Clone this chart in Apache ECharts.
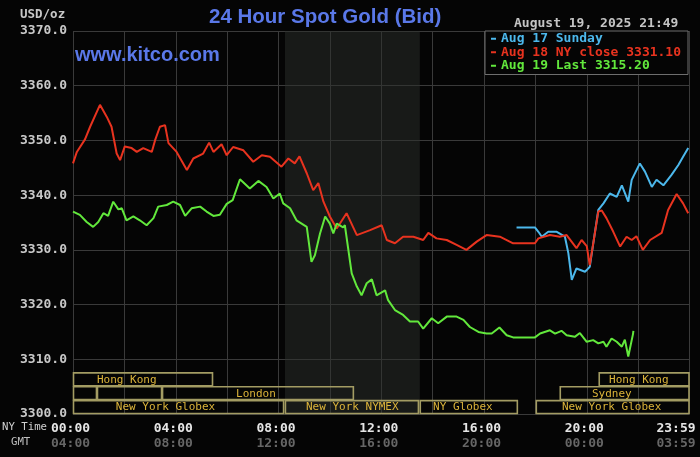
<!DOCTYPE html>
<html>
<head>
<meta charset="utf-8">
<script src="https://cdn.jsdelivr.net/npm/echarts@6/dist/echarts.min.js"></script>
<style>
html, body { margin: 0; padding: 0; background: #050505; }
#chart { width: 700px; height: 457px; }
</style>
</head>
<body>
<div id="chart"></div>
<script>
// minutes after midnight (NY time) and bid prices
var sundayTime = [1036, 1079, 1087, 1095, 1110, 1130, 1149, 1157, 1165, 1176, 1196, 1207, 1227, 1239, 1254, 1270, 1282, 1297, 1305, 1324, 1336, 1352, 1363, 1379, 1398, 1414, 1425, 1437];
var sundayVal = [3334.1, 3334.1, 3333.3, 3332.4, 3333.3, 3333.3, 3332.4, 3329.4, 3324.5, 3326.6, 3326.0, 3326.9, 3337.3, 3338.5, 3340.3, 3339.7, 3341.8, 3338.8, 3342.8, 3345.8, 3344.3, 3341.5, 3342.8, 3341.8, 3343.7, 3345.5, 3347.0, 3348.6];

var closeTime = [0, 9, 28, 40, 63, 79, 90, 102, 110, 121, 137, 149, 164, 184, 192, 203, 215, 223, 242, 266, 281, 304, 318, 328, 347, 359, 374, 398, 421, 441, 460, 487, 503, 518, 529, 546, 561, 573, 585, 600, 616, 639, 663, 694, 721, 733, 752, 771, 795, 818, 830, 849, 873, 896, 919, 943, 966, 997, 1028, 1079, 1087, 1114, 1137, 1153, 1176, 1188, 1200, 1207, 1227, 1235, 1246, 1262, 1278, 1293, 1305, 1316, 1331, 1348, 1375, 1390, 1410, 1425, 1437];
var closeVal = [3345.8, 3347.9, 3350.2, 3352.5, 3356.5, 3354.3, 3352.5, 3347.6, 3346.4, 3348.9, 3348.6, 3347.9, 3348.6, 3347.9, 3350.1, 3352.5, 3352.8, 3349.5, 3347.9, 3344.6, 3346.7, 3347.6, 3349.6, 3347.9, 3349.3, 3347.3, 3348.8, 3348.2, 3346.1, 3347.3, 3347.0, 3345.2, 3346.7, 3345.8, 3347.1, 3344.0, 3340.9, 3342.2, 3338.8, 3336.1, 3333.9, 3336.7, 3332.7, 3333.6, 3334.5, 3331.8, 3331.2, 3332.4, 3332.4, 3331.8, 3333.1, 3332.1, 3331.8, 3330.9, 3330.0, 3331.5, 3332.7, 3332.4, 3331.2, 3331.2, 3332.1, 3332.7, 3332.4, 3332.7, 3330.3, 3331.8, 3330.7, 3327.2, 3337.0, 3337.2, 3335.8, 3333.3, 3330.6, 3332.4, 3331.8, 3332.5, 3330.0, 3331.8, 3333.1, 3337.3, 3340.2, 3338.5, 3336.7];

var lastTime = [0, 16, 32, 47, 59, 71, 82, 94, 106, 114, 125, 141, 156, 172, 188, 199, 219, 234, 250, 262, 277, 297, 312, 328, 343, 359, 373, 390, 413, 433, 452, 468, 483, 491, 507, 522, 546, 557, 565, 577, 589, 600, 608, 616, 631, 635, 651, 663, 674, 686, 698, 709, 729, 736, 752, 771, 787, 806, 818, 838, 853, 873, 896, 912, 927, 947, 966, 978, 996, 1013, 1028, 1079, 1091, 1114, 1126, 1141, 1153, 1172, 1184, 1200, 1215, 1227, 1239, 1246, 1258, 1270, 1282, 1289, 1297, 1308, 1309];
var lastVal = [3337.0, 3336.4, 3335.1, 3334.2, 3335.1, 3336.7, 3336.2, 3338.8, 3337.4, 3337.6, 3335.4, 3336.1, 3335.4, 3334.5, 3335.8, 3337.9, 3338.2, 3338.8, 3338.2, 3336.2, 3337.6, 3337.9, 3337.0, 3336.2, 3336.4, 3338.4, 3339.1, 3342.9, 3341.2, 3342.6, 3341.5, 3339.4, 3340.3, 3338.5, 3337.6, 3335.4, 3334.2, 3327.8, 3329.0, 3333.0, 3336.1, 3334.8, 3333.0, 3334.8, 3334.1, 3334.5, 3325.7, 3323.3, 3321.7, 3323.9, 3324.6, 3321.7, 3322.6, 3320.8, 3319.0, 3318.1, 3316.9, 3316.9, 3315.6, 3317.5, 3316.6, 3317.8, 3317.8, 3317.2, 3315.9, 3315.0, 3314.7, 3314.7, 3315.8, 3314.4, 3314.0, 3314.0, 3314.7, 3315.3, 3314.7, 3315.2, 3314.4, 3314.1, 3314.8, 3313.2, 3313.5, 3312.9, 3313.2, 3312.3, 3313.8, 3313.2, 3312.3, 3313.6, 3310.5, 3314.6, 3315.2];

var seriesNames = ['Aug 17 Sunday', 'Aug 18 NY close 3331.10', 'Aug 19 Last 3315.20'];
var seriesColors = ['#4cb8ec', '#e8331f', '#62e83c'];

// trading sessions drawn along the bottom (row 0 = top row)
var sessionName = ['Hong Kong', 'Hong Kong', '', '', 'London', 'Sydney', 'New York Globex', 'New York NYMEX', 'NY Globex', 'New York Globex'];
var sessionRow = [0, 0, 1, 1, 1, 1, 2, 2, 2, 2];
var sessionStart = [0, 1228, 0, 56, 208, 1137, 0, 495, 810, 1081];
var sessionEnd = [327, 1440, 56, 208, 656, 1440, 493, 808, 1039, 1440];
var sessionLabelAt = [56, 1252, 0, 0, 381, 1212, 100, 544, 841, 1142];

// NYMEX floor hours, shaded
var floorStart = 495, floorEnd = 810;

var yTicks = [3300, 3370, 10];
var xTicks = [0, 1440, 120];

function pad2(n) { return (n < 10 ? '0' : '') + n; }
function hhmm(m) {
    if (m >= 1440) m = 1439;
    return pad2(Math.floor(m / 60)) + ':' + pad2(m % 60);
}
function zip(t, v) {
    var out = [];
    for (var i = 0; i < t.length; i++) out.push([t[i], v[i]]);
    return out;
}

var mono = 'DejaVu Sans Mono';
var rowH = 2.53, rowTop = 3307.6;

var chart = echarts.init(document.getElementById('chart'));
var option = {
    animation: false,
    backgroundColor: '#050505',
    title: [{
        text: '24 Hour Spot Gold (Bid)',
        left: 209,
        top: 7,
        padding: 0,
        textStyle: { color: '#5a78e8', fontFamily: 'Liberation Sans', fontWeight: 'bold', fontSize: 20.5 }
    }, {
        text: 'www.kitco.com',
        left: 75,
        top: 45,
        padding: 0,
        textStyle: { color: '#5a78e8', fontFamily: 'Liberation Sans', fontWeight: 'bold', fontSize: 20 }
    }],
    legend: {
        orient: 'vertical',
        left: 485,
        top: 31,
        padding: [1, 7, 2, 6],
        itemGap: 0,
        itemWidth: 5,
        itemHeight: 2,
        itemTextGap: 6,
        icon: 'rect',
        backgroundColor: '#050505',
        borderColor: '#6e6e6e',
        borderWidth: 1,
        borderRadius: 0,
        textStyle: { fontFamily: mono, fontWeight: 'bold', fontSize: 13, lineHeight: 13.5 },
        data: [
            { name: seriesNames[0], textStyle: { color: seriesColors[0] } },
            { name: seriesNames[1], textStyle: { color: seriesColors[1] } },
            { name: seriesNames[2], textStyle: { color: seriesColors[2] } }
        ]
    },
    graphic: [
        { type: 'text', left: 514, top: 17, style: { text: 'August 19, 2025 21:49', fill: '#c4c4c4', font: 'bold 13px "DejaVu Sans Mono"' } },
        { type: 'text', left: 20, top: 8, style: { text: 'USD/oz', fill: '#c8c8c8', font: 'bold 12.5px "DejaVu Sans Mono"' } },
        { type: 'text', left: 2, top: 422, style: { text: 'NY Time', fill: '#d0d0d0', font: '10.7px "DejaVu Sans Mono"' } },
        { type: 'text', left: 11, top: 437, style: { text: 'GMT', fill: '#c0c0c0', font: '10.7px "DejaVu Sans Mono"' } }
    ],
    grid: { left: 73, right: 10.5, top: 31, bottom: 43, outerBoundsMode: 'none', containLabel: false },
    xAxis: {
        type: 'value',
        min: xTicks[0],
        max: xTicks[1],
        interval: xTicks[2],
        axisLine: { show: false },
        axisTick: { show: false },
        splitLine: { show: true, lineStyle: { color: '#3a3a3a', width: 1 } },
        axisLabel: {
            margin: 7,
            showMaxLabel: true,
            formatter: function (v) {
                if (v % 240 !== 0 && v !== 1440) return '';
                var g = (v + 240) % 1440;
                if (v === 1440) return '{c|23:59}\n{d|03:59}';
                return '{a|' + hhmm(v) + '}\n{b|' + hhmm(g) + '}';
            },
            rich: {
                a: { fontFamily: mono, fontWeight: 'bold', fontSize: 13, color: '#e6e6e6', lineHeight: 15, padding: [0, 5, 0, 0] },
                b: { fontFamily: mono, fontWeight: 'bold', fontSize: 13, color: '#666666', lineHeight: 15, padding: [0, 5, 0, 0] },
                c: { fontFamily: mono, fontWeight: 'bold', fontSize: 13, color: '#e6e6e6', lineHeight: 15, padding: [0, 27, 0, 0] },
                d: { fontFamily: mono, fontWeight: 'bold', fontSize: 13, color: '#666666', lineHeight: 15, padding: [0, 27, 0, 0] }
            }
        }
    },
    yAxis: {
        type: 'value',
        min: yTicks[0],
        max: yTicks[1],
        interval: yTicks[2],
        axisLine: { show: false },
        axisTick: { show: false },
        splitLine: { show: true, lineStyle: { color: '#3a3a3a', width: 1 } },
        axisLabel: {
            margin: 6,
            color: '#c8c8c8',
            fontFamily: mono,
            fontWeight: 'bold',
            fontSize: 13,
            formatter: function (v) { return v.toFixed(1); }
        }
    },
    series: [
        {
            name: seriesNames[0],
            type: 'line',
            data: zip(sundayTime, sundayVal),
            showSymbol: false,
            color: seriesColors[0],
            lineStyle: { width: 2 },
            markArea: {
                silent: true,
                itemStyle: { color: 'rgba(44,48,44,0.5)' },
                data: [[{ xAxis: floorStart }, { xAxis: floorEnd }]]
            }
        },
        {
            name: seriesNames[1],
            type: 'line',
            data: zip(closeTime, closeVal),
            showSymbol: false,
            color: seriesColors[1],
            lineStyle: { width: 2 }
        },
        {
            name: seriesNames[2],
            type: 'line',
            data: zip(lastTime, lastVal),
            showSymbol: false,
            color: seriesColors[2],
            lineStyle: { width: 2 }
        },
        {
            name: 'sessions',
            type: 'custom',
            silent: true,
            data: sessionStart.map(function (s, i) {
                return [s, sessionEnd[i], sessionRow[i], sessionLabelAt[i]];
            }),
            renderItem: function (params, api) {
                var i = params.dataIndex;
                var top = rowTop - api.value(2) * rowH;
                var p0 = api.coord([api.value(0), top]);
                var p1 = api.coord([api.value(1), top - rowH]);
                var children = [{
                    type: 'rect',
                    shape: { x: p0[0] + 0.5, y: p0[1] + 0.5, width: p1[0] - p0[0] - 1, height: p1[1] - p0[1] - 1 },
                    style: { fill: 'none', stroke: '#a39c63', lineWidth: 1.6 }
                }];
                if (sessionName[i]) {
                    children.push({
                        type: 'text',
                        style: {
                            text: sessionName[i],
                            x: api.coord([api.value(3), top])[0],
                            y: (p0[1] + p1[1]) / 2 + 0.5,
                            verticalAlign: 'middle',
                            fill: '#dcb43a',
                            font: '11px "DejaVu Sans Mono"'
                        }
                    });
                }
                return { type: 'group', children: children };
            }
        }
    ]
};
chart.setOption(option);
</script>
</body>
</html>
